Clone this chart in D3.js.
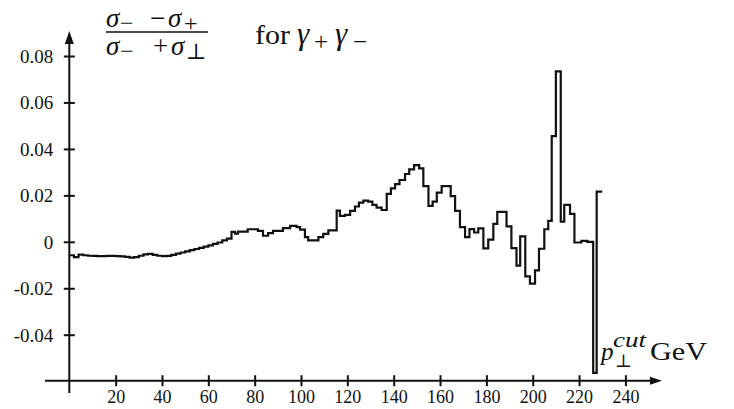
<!DOCTYPE html>
<html>
<head>
<meta charset="utf-8">
<script src="https://cdn.jsdelivr.net/npm/d3@7"></script>
<style>
  body { margin: 0; background: #fff; }
  svg text { font-family: "Liberation Serif", "Times New Roman", Tinos, "DejaVu Serif", serif !important; fill: #111; }
</style>
</head>
<body>
<div id="chart"></div>
<script>
// bin low edges (GeV) and asymmetry value of each bin; last bin ends at ptEnd
const ptEdges = [0, 2, 4, 6, 8, 10, 12, 14, 16, 18, 20, 22, 24, 26, 28, 30, 32, 34, 36, 38,
  40, 42, 44, 46, 48, 50, 52, 54, 56, 58, 60, 62, 64, 66, 68,
  70, 71.5, 72.8, 77, 81.4, 83.6, 85.8, 87.9, 92.2, 95.3,
  98.1, 99.6, 101.7, 103.1, 107.5, 109.6, 111.8, 115.4, 116.8, 119,
  121.2, 123.3, 125, 126.9, 129, 130.8, 132.6, 134.8, 137, 138.8,
  140.6, 142.5, 144.9, 146.7, 148.8, 151, 152.8, 155, 156.8, 158.6,
  160.7, 164.6, 166.5, 168.6, 170.8, 172.7, 174.7, 176.5, 178.7, 180.8,
  183, 184.7, 188.7, 190.8, 193, 194.6, 196.8, 198.8, 201, 202.7,
  205, 206.7, 208.2, 210, 212.1, 213.6, 216.1, 218, 221, 223.6,
  226.1, 227.6];
const ptEnd = 230;
const asym = [-0.0058, -0.0066, -0.0055, -0.0058, -0.006, -0.0061, -0.0062, -0.0062, -0.0061, -0.0061,
  -0.0062, -0.0063, -0.0065, -0.0068, -0.0066, -0.006, -0.0054, -0.0052, -0.0056, -0.006,
  -0.0062, -0.0061, -0.0056, -0.0051, -0.0046, -0.0041, -0.0036, -0.0031, -0.0026, -0.0021,
  -0.0015, -0.0009, -0.0003, 0.0006, 0.0014,
  0.0043, 0.0035, 0.0044, 0.0054, 0.0047, 0.0026, 0.0037, 0.0047, 0.0059, 0.0069,
  0.0063, 0.0052, 0.002, 0.0006, 0.002, 0.0034, 0.0049, 0.0134, 0.0112, 0.0116,
  0.0133, 0.0152, 0.0169, 0.0177, 0.0173, 0.0159, 0.0147, 0.0137, 0.0206, 0.023,
  0.0248, 0.0266, 0.0292, 0.0312, 0.033, 0.0316, 0.024, 0.0155, 0.0173, 0.0212,
  0.024, 0.0197, 0.0133, 0.0063, 0.002, 0.0055, 0.004, 0.0058, -0.0028, 0.0009,
  0.0077, 0.0129, 0.0066, -0.0027, -0.0103, 0.0023, -0.0149, -0.018, -0.0123, -0.003,
  0.0054, 0.009, 0.0455, 0.0734, 0.0087, 0.0159, 0.012, -0.0003, 0.0004, 0.0,
  -0.0564, 0.0216];

const xTicks = [20, 40, 60, 80, 100, 120, 140, 160, 180, 200, 220, 240];
const yTicks = [-0.04, -0.02, 0, 0.02, 0.04, 0.06, 0.08];
const yTickLabels = ["-0.04", "-0.02", "0", "0.02", "0.04", "0.06", "0.08"];

const width = 734, height = 409;
const serif = "'Liberation Serif', 'Times New Roman', Tinos, 'DejaVu Serif', serif";

const svg = d3.select("#chart").append("svg")
  .attr("width", width)
  .attr("height", height)
  .attr("font-family", serif);

const x = d3.scaleLinear().domain([0, 240]).range([69.3, 625.4]);
const y = d3.scaleLinear().domain([-0.04, 0.08]).range([334.7, 56]);

const axisY = 380.7; // x axis sits at about -0.06
const x0 = x(0);

// axes lines
svg.append("line")
  .attr("x1", 45).attr("x2", 652)
  .attr("y1", axisY).attr("y2", axisY)
  .attr("stroke", "#111").attr("stroke-width", 2);
svg.append("line")
  .attr("x1", x0).attr("x2", x0)
  .attr("y1", 42).attr("y2", 393)
  .attr("stroke", "#111").attr("stroke-width", 2);

// arrow heads
svg.append("path")
  .attr("d", `M${x0},31 L${x0 - 4.5},44 L${x0 + 4.5},44 Z`)
  .attr("fill", "#111");
svg.append("path")
  .attr("d", `M662,${axisY} L650,${axisY - 4} L650,${axisY + 4} Z`)
  .attr("fill", "#111");

// x ticks
const xAxis = svg.append("g")
  .attr("transform", `translate(0,${axisY})`)
  .call(d3.axisBottom(x).tickValues(xTicks).tickSize(0).tickPadding(0).tickFormat(d3.format("d")))
  .attr("font-family", serif);
xAxis.select(".domain").remove();
xAxis.selectAll(".tick line")
  .attr("y1", -5.5).attr("y2", 5.5)
  .attr("stroke", "#111").attr("stroke-width", 2);
xAxis.selectAll(".tick text")
  .attr("y", 22.5).attr("dy", null)
  .style("font-size", "18px")
  .attr("fill", "#111");

// y ticks
const yAxis = svg.append("g")
  .attr("transform", `translate(${x0},0)`)
  .call(d3.axisLeft(y).tickValues(yTicks).tickSize(0).tickPadding(0)
    .tickFormat((d, i) => yTickLabels[i]))
  .attr("font-family", serif);
yAxis.select(".domain").remove();
yAxis.selectAll(".tick line")
  .attr("x1", -5.5).attr("x2", 5.5)
  .attr("stroke", "#111").attr("stroke-width", 2);
yAxis.selectAll(".tick text")
  .attr("x", -16).attr("dy", "0.34em")
  .style("font-size", "19px")
  .attr("fill", "#111");

// step curve
const steps = ptEdges.map((p, i) => ({ pt: p, v: asym[i] }));
steps.push({ pt: ptEnd, v: asym[asym.length - 1] });

const line = d3.line()
  .x(d => x(d.pt))
  .y(d => y(d.v))
  .curve(d3.curveStepAfter);

svg.append("path")
  .datum(steps)
  .attr("d", line)
  .attr("fill", "none")
  .attr("stroke", "#111")
  .attr("stroke-width", 2.2)
  .attr("stroke-linejoin", "miter");

// math-ish labels: each glyph group placed by hand
function glyph(px, py, size, italic, s) {
  return svg.append("text")
    .attr("x", px).attr("y", py)
    .style("font-size", size + "px")
    .style("font-style", italic ? "italic" : "normal")
    .text(s);
}

// fraction
glyph(106, 27, 27, true, "σ");
glyph(120, 31, 24, false, "−");
glyph(150, 27, 27, false, "−");
glyph(168, 27, 27, true, "σ");
glyph(184, 31, 24, false, "+");

svg.append("line")
  .attr("x1", 106).attr("x2", 208)
  .attr("y1", 32).attr("y2", 32)
  .attr("stroke", "#111").attr("stroke-width", 1.4);

glyph(106, 55, 27, true, "σ");
glyph(120, 59, 24, false, "−");
glyph(153, 55, 27, false, "+");
glyph(171, 55, 27, true, "σ");
glyph(186, 59, 22, false, "⊥");

// "for γ+γ−"
glyph(255, 44, 28, false, "for")
  .attr("textLength", 35).attr("lengthAdjust", "spacingAndGlyphs");
glyph(297, 44, 31, true, "γ");
glyph(314, 50, 25, false, "+");
glyph(335, 44, 31, true, "γ");
glyph(353, 50, 25, false, "−");

// x axis label
glyph(601, 360, 25, true, "p");
glyph(613, 347, 21, true, "cut")
  .attr("textLength", 33).attr("lengthAdjust", "spacingAndGlyphs");
glyph(615, 367, 18, false, "⊥");
glyph(650, 360, 25, false, "GeV")
  .attr("textLength", 57).attr("lengthAdjust", "spacingAndGlyphs");
</script>
</body>
</html>
